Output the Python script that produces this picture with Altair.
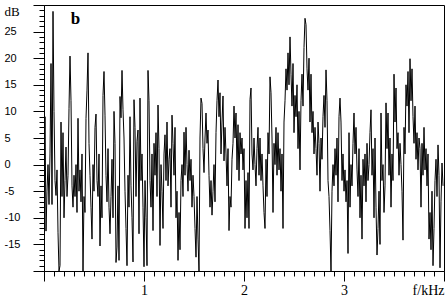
import altair as alt
import pandas as pd

# spectrum level in dB, one value every 0.01 kHz
band_0_1k = [
    -5, 9, -12.5, -5, 0, -7.5, 2, 19, -7.5, 28.8, 10, -3, -5.8, -1, -12.7, -20, -19, 8, -6, 6,
    -10, -3, 3.3, -6, -2, 10.5, 20.4, 12, -4, -8, -2, -6, 0, -9, 8.7, -5, -1, -7, 2, -20,
    -6, -9, 8.7, 14, 21, 4, -2, -8, -14, 0, -5, 7, 9.5, -3, -6, 2, -15.3, -4, -10, 13,
    17.5, 9.3, -2, -7, 3, -8, -13, -6, 1, -10, 10, 4, -18.4, -15.5, -4, -18, 12.8, 8.8, 17.7, 10.3,
    5, -5, -12, -19, -2, -8, 9, -4, -10, -18.3, 12.2, 7, -6, 4.4, 6.5, -13, 12.5, -3, 2, -8,
]
band_1_2k = [
    -19.2, -3, -10, -19, 17.7, 12, -3, -8, 2, -12.4, 4, -2, 6, -6, 11.2, 3, -15.2, 0, -5, -12,
    2, 5.6, -3, 8, -4, 1, 3, -8, 9.3, 4, -2, 7, -10, -5, -18, -9, -16, -3, 0, -6,
    6.1, -2, 7, 0, -5, 2.7, -3, 1, -8, -2, -6, -12, -17.4, -6, -14, -20, 5, 12.5, 11.5, 3,
    -1.5, 5, 9.7, 4, 6.5, -2, -8, -3, -9.5, -5, 0, -7, 6, 12, 15.9, 9, 13.5, 2, 8, 12.9,
    0.7, 7, 2, -4, 3, -12.4, -6, -8, 1, 4, 11, 5, 9.7, -1, 7.5, -3, 6, 2, 5, -1,
]
band_2_3k = [
    3, -12, -3, -10, -1.5, -12, 12.2, 14.4, 2, -1, 5, 0, -4, 3, 7, -2, 5, -3, 2, -4,
    -9, -12, 1, -6, 6, 2, 16.5, 13.5, 5, -9, 4, 0, 7, -2, 6, -1, 3, -5, 2, -12,
    8, 12, 18, 14, 21, 15, 24, 17, 11, 19, 6, 13, 9, 15, 3, 10, -1, 12, 17, 11,
    22, 27.5, 26.3, 18, 14, 20, 8, 17, 6, 10, 2, 7, 3, -2, 8, 4, -5, 5, 1, 9,
    13, 7, 17.8, 12, -3, -6, -12.4, -20, -5, 0, -4, 3, -2, 5, -7, 9, 12.5, 8, -3, 2,
]
band_3_4k = [
    -5, -1, -7, -3, -16.7, 6, -8, 0, -4, 4, 9.7, 2, 7, -1, -6, 3, -10, -2, -14, 1,
    -4, 2, -7, 4, -3, 0, 6, 10.3, -2, 3, -10, 5, -8, -17, -12, -5, -15, 9.7, -3, 0,
    -9, -4, 11.6, 3, 9.7, -2, 5, -8, 2, -3, 17, 8, 14.4, 3, 6, -2, 4, 0, -5, -14.2,
    7, 2, 15, 11, 17.5, 6, 19.9, 12, 18, 9, 4, 11, 1, 6, -1, 5, 3, -8, 4, -2,
    7, -1, 3, -4, 2, -14, -9, -16, -5, -19, -12, -3, 1, -6, 3.7, -2, -19.4, -7, 0.3, -4,
]
freq_step_khz = 0.01

x_tick_values = [round(i * 0.1, 1) for i in range(41)]
y_tick_values = list(range(-20, 31))

levels = band_0_1k + band_1_2k + band_2_3k + band_3_4k
df = pd.DataFrame({
    "f": [round(i * freq_step_khz, 3) for i in range(len(levels))],
    "db": levels,
})

x_axis = alt.Axis(
    values=x_tick_values,
    title=None,
    grid=False,
    domainColor="black",
    tickColor="black",
    tickSize={"condition": {"test": "abs(datum.value - round(datum.value)) < 0.001", "value": 10}, "value": 5},
    labelExpr="datum.value > 3.95 ? 'f/kHz' : (abs(datum.value - round(datum.value)) < 0.001 && datum.value > 0.5 ? '' + round(datum.value) : '')",
    labelAlign={"condition": {"test": "datum.value > 3.95", "value": "right"}, "value": "center"},
    labelFont="Liberation Serif",
    labelFontSize=14,
    labelColor="black",
    labelPadding=2,
    labelOverlap=False,
    labelFlush=False,
    labelBound=False,
)

y_axis = alt.Axis(
    values=y_tick_values,
    title=None,
    grid=False,
    domainColor="black",
    tickColor="black",
    tickSize={"condition": {"test": "datum.value % 5 === 0", "value": 11}, "value": 5},
    labelExpr="datum.value == 30 ? 'dB' : (datum.value % 5 === 0 && datum.value > -20 ? '' + datum.value : '')",
    labelAlign="left",
    labelBaseline={"condition": {"test": "datum.value == 30", "value": "top"}, "value": "middle"},
    labelFont={"condition": {"test": "datum.value == 30", "value": "Liberation Serif"}, "value": "Liberation Sans"},
    labelFontSize={"condition": {"test": "datum.value == 30", "value": 13}, "value": 11},
    labelColor="black",
    labelPadding=29,
    labelOverlap=False,
    labelFlush=False,
    labelBound=False,
)

line = alt.Chart(df).mark_line(color="black", strokeWidth=1, clip=True).encode(
    x=alt.X("f:Q", scale=alt.Scale(domain=[0, 4], nice=False, zero=False), axis=x_axis),
    y=alt.Y("db:Q", scale=alt.Scale(domain=[-20, 30], nice=False, zero=False), axis=y_axis),
)

panel = pd.DataFrame({"t": ["b"]})
label = alt.Chart(panel).mark_text(
    font="Liberation Serif", fontSize=17, fontWeight="bold", color="black",
    align="center", baseline="middle",
).encode(text="t:N", x=alt.value(31.5), y=alt.value(14))

chart = alt.layer(line, label).properties(
    width=400, height=266,
    autosize=alt.AutoSizeParams(type="none"),
    padding={"left": 44, "top": 5, "right": 3, "bottom": 27},
    background="white",
).configure_view(stroke="black", strokeWidth=1)

chart.save("out.html", embed_options={"renderer": "svg", "actions": False})
